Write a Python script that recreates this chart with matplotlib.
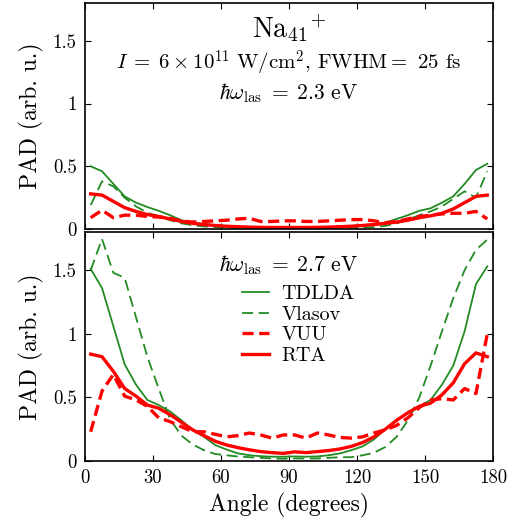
#!/usr/bin/env python3
"""Photoelectron angular distributions of Na41+ for two laser frequencies."""

import matplotlib

matplotlib.use("Agg")
import matplotlib.pyplot as plt

angle_deg = [
    2.5, 7.5, 12.5, 17.5, 22.5, 27.5, 32.5, 37.5, 42.5, 47.5, 52.5, 57.5,
    62.5, 67.5, 72.5, 77.5, 82.5, 87.5, 92.5, 97.5, 102.5, 107.5, 112.5, 117.5,
    122.5, 127.5, 132.5, 137.5, 142.5, 147.5, 152.5, 157.5, 162.5, 167.5, 172.5, 177.5,
]

# hbar omega = 2.3 eV
tdlda_23 = [
    0.50, 0.46, 0.36, 0.26, 0.21, 0.175, 0.145, 0.11, 0.07, 0.05, 0.04, 0.03,
    0.02, 0.015, 0.012, 0.01, 0.01, 0.01, 0.01, 0.01, 0.012, 0.015, 0.02, 0.025,
    0.03, 0.04, 0.05, 0.08, 0.11, 0.145, 0.165, 0.21, 0.26, 0.36, 0.47, 0.52,
]
vlasov_23 = [
    0.19, 0.38, 0.34, 0.25, 0.18, 0.13, 0.10, 0.07, 0.045, 0.03, 0.02, 0.015,
    0.01, 0.008, 0.006, 0.006, 0.006, 0.006, 0.006, 0.006, 0.006, 0.008, 0.01, 0.01,
    0.012, 0.015, 0.025, 0.045, 0.075, 0.11, 0.14, 0.18, 0.24, 0.30, 0.25, 0.46,
]
vuu_23 = [
    0.09, 0.15, 0.09, 0.11, 0.11, 0.10, 0.095, 0.085, 0.065, 0.055, 0.06, 0.065,
    0.07, 0.08, 0.085, 0.06, 0.06, 0.065, 0.065, 0.06, 0.06, 0.065, 0.07, 0.075,
    0.075, 0.065, 0.05, 0.06, 0.08, 0.10, 0.11, 0.12, 0.125, 0.125, 0.14, 0.08,
]
rta_23 = [
    0.28, 0.27, 0.22, 0.17, 0.14, 0.115, 0.10, 0.08, 0.06, 0.045, 0.035, 0.028,
    0.022, 0.018, 0.015, 0.013, 0.012, 0.012, 0.012, 0.012, 0.013, 0.015, 0.018, 0.022,
    0.028, 0.035, 0.045, 0.055, 0.07, 0.09, 0.105, 0.125, 0.16, 0.21, 0.26, 0.27,
]

# hbar omega = 2.7 eV
tdlda_27 = [
    1.51, 1.36, 1.06, 0.76, 0.60, 0.48, 0.44, 0.39, 0.32, 0.245, 0.19, 0.125,
    0.09, 0.06, 0.045, 0.038, 0.034, 0.034, 0.036, 0.034, 0.036, 0.045, 0.06, 0.085,
    0.115, 0.17, 0.25, 0.32, 0.38, 0.43, 0.48, 0.60, 0.75, 1.02, 1.39, 1.53,
]
vlasov_27 = [
    1.50, 1.745, 1.48, 1.44, 1.13, 0.82, 0.57, 0.33, 0.20, 0.13, 0.085, 0.055,
    0.045, 0.035, 0.03, 0.025, 0.02, 0.018, 0.02, 0.02, 0.02, 0.025, 0.03, 0.03,
    0.045, 0.065, 0.11, 0.19, 0.32, 0.50, 0.75, 1.02, 1.28, 1.50, 1.66, 1.74,
]
vuu_27 = [
    0.23, 0.55, 0.68, 0.51, 0.48, 0.43, 0.34, 0.31, 0.27, 0.23, 0.23, 0.21,
    0.19, 0.20, 0.22, 0.205, 0.18, 0.205, 0.205, 0.18, 0.22, 0.205, 0.185, 0.18,
    0.19, 0.22, 0.245, 0.28, 0.34, 0.42, 0.48, 0.49, 0.48, 0.57, 0.53, 1.00,
]
rta_27 = [
    0.84, 0.82, 0.705, 0.57, 0.51, 0.44, 0.415, 0.365, 0.305, 0.245, 0.20, 0.155,
    0.126, 0.105, 0.088, 0.074, 0.066, 0.06, 0.072, 0.066, 0.074, 0.082, 0.095, 0.115,
    0.145, 0.19, 0.25, 0.32, 0.38, 0.43, 0.455, 0.52, 0.615, 0.765, 0.85, 0.82,
]

x_ticks = [0, 30, 60, 90, 120, 150, 180]
y_ticks = [0, 0.5, 1, 1.5]
y_tick_labels = ["0", "0.5", "1", "1.5"]

GREEN = "#228b22"
RED = "#ff0000"

plt.rcParams["font.family"] = "serif"
plt.rcParams["font.serif"] = ["cmr10", "DejaVu Serif"]
plt.rcParams["mathtext.fontset"] = "cm"
plt.rcParams["axes.unicode_minus"] = False
plt.rcParams["lines.scale_dashes"] = False


def style_axes(axes, show_xlabels):
    axes.set_xlim(0, 180)
    axes.set_ylim(0, 1.8)
    axes.set_xticks(x_ticks)
    axes.set_yticks(y_ticks)
    axes.set_yticklabels(y_tick_labels)
    axes.tick_params(direction="in", top=True, right=True, length=4,
                     width=0.8, labelsize=13.5, pad=6)
    if not show_xlabels:
        axes.tick_params(labelbottom=False)
    else:
        axes.set_xlabel("Angle (degrees)", fontsize=17, labelpad=4)
    axes.set_ylabel("PAD (arb. u.)", fontsize=17, labelpad=6)
    for spine in axes.spines.values():
        spine.set_linewidth(1.2)


def draw_curves(axes, tdlda, vlasov, vuu, rta):
    axes.plot(angle_deg, tdlda, color=GREEN, lw=1.3, label="TDLDA")
    axes.plot(angle_deg, vlasov, color=GREEN, lw=1.3, dashes=(8, 4), label="Vlasov")
    axes.plot(angle_deg, vuu, color=RED, lw=2.4, dashes=(8, 4), label="VUU")
    axes.plot(angle_deg, rta, color=RED, lw=2.4, label="RTA")


figure = plt.figure(figsize=(5.19, 5.24), dpi=100)
top = figure.add_axes([0.1638, 0.563, 0.786, 0.431])
bottom = figure.add_axes([0.1638, 0.1202, 0.786, 0.437])

draw_curves(top, tdlda_23, vlasov_23, vuu_23, rta_23)
draw_curves(bottom, tdlda_27, vlasov_27, vuu_27, rta_27)
style_axes(top, False)
style_axes(bottom, True)

top.text(0.5, 0.85, r"$\mathrm{Na}_{41}{}^{+}$", transform=top.transAxes,
         ha="center", va="baseline", fontsize=20)
top.text(0.5, 0.705,
         r"$I\;=\;6\times10^{11}\ \mathrm{W/cm}^{2}$, FWHM$=$ 25 fs",
         transform=top.transAxes, ha="center", va="baseline", fontsize=15)
top.text(0.5, 0.572, r"$\hbar\omega_{\mathrm{las}}\;=\;2.3\ \mathrm{eV}$",
         transform=top.transAxes, ha="center", va="baseline", fontsize=15.5)
bottom.text(0.5, 0.83, r"$\hbar\omega_{\mathrm{las}}\;=\;2.7\ \mathrm{eV}$",
            transform=bottom.transAxes, ha="center", va="baseline", fontsize=15.5)

bottom.legend(loc="upper left", bbox_to_anchor=(0.36, 0.812), frameon=False,
              fontsize=14.5, handlelength=1.35, handletextpad=0.6,
              labelspacing=0.12, borderpad=0.0)

figure.savefig("out.png", dpi=100)
